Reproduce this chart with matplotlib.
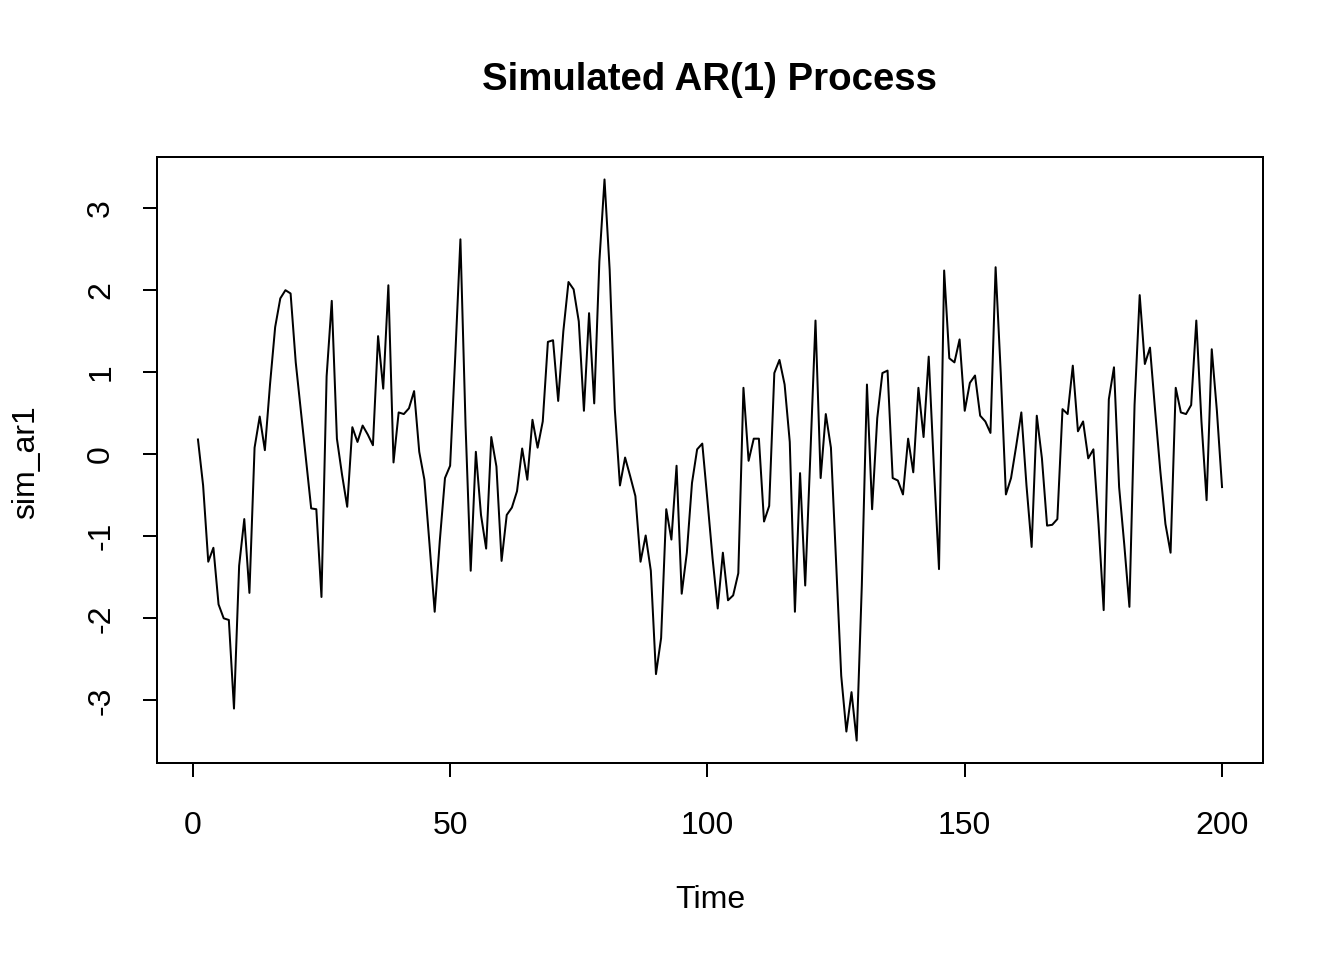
import matplotlib
matplotlib.use("Agg")
import matplotlib.pyplot as plt
import numpy as np

plt.rcParams['font.family'] = ['Liberation Sans', 'DejaVu Sans']

title = "Simulated AR(1) Process"
xlabel = "Time"
ylabel = "sim_ar1"

time = list(range(1, 201))
sim_ar1 = [
    0.18, -0.38, -1.31, -1.14, -1.83, -2.00, -2.02, -3.10, -1.36, -0.79,
    -1.69, 0.08, 0.46, 0.05, 0.85, 1.55, 1.90, 2.00, 1.96, 1.12,
    0.53, -0.06, -0.66, -0.67, -1.74, 0.95, 1.87, 0.19, -0.25, -0.64,
    0.33, 0.15, 0.35, 0.24, 0.11, 1.44, 0.80, 2.06, -0.10, 0.51,
    0.49, 0.56, 0.77, 0.03, -0.31, -1.10, -1.92, -1.05, -0.29, -0.14,
    1.20, 2.62, 0.35, -1.42, 0.03, -0.74, -1.15, 0.21, -0.15, -1.30,
    -0.74, -0.65, -0.45, 0.07, -0.31, 0.42, 0.08, 0.40, 1.37, 1.39,
    0.65, 1.50, 2.10, 2.01, 1.62, 0.53, 1.72, 0.62, 2.35, 3.35,
    2.25, 0.55, -0.38, -0.04, -0.27, -0.51, -1.31, -0.99, -1.42, -2.68,
    -2.24, -0.67, -1.04, -0.14, -1.70, -1.20, -0.35, 0.06, 0.13, -0.56,
    -1.27, -1.88, -1.20, -1.78, -1.72, -1.45, 0.81, -0.08, 0.19, 0.19,
    -0.82, -0.63, 0.99, 1.15, 0.85, 0.15, -1.92, -0.23, -1.60, -0.01,
    1.63, -0.29, 0.49, 0.08, -1.30, -2.70, -3.38, -2.90, -3.49, -1.60,
    0.85, -0.67, 0.44, 0.99, 1.02, -0.29, -0.32, -0.49, 0.19, -0.22,
    0.81, 0.21, 1.19, -0.15, -1.40, 2.24, 1.17, 1.12, 1.40, 0.53,
    0.87, 0.96, 0.47, 0.40, 0.26, 2.28, 0.99, -0.49, -0.29, 0.10,
    0.51, -0.38, -1.13, 0.47, -0.05, -0.87, -0.86, -0.79, 0.55, 0.49,
    1.08, 0.28, 0.40, -0.05, 0.06, -0.85, -1.90, 0.67, 1.06, -0.40,
    -1.10, -1.86, 0.60, 1.94, 1.10, 1.30, 0.53, -0.20, -0.85, -1.20,
    0.81, 0.51, 0.49, 0.60, 1.63, 0.40, -0.56, 1.28, 0.53, -0.40,
]
xticks = [0, 50, 100, 150, 200]
yticks = [-3, -2, -1, 0, 1, 2, 3]

W, H = 1344, 960
fig = plt.figure(figsize=(7, 5), dpi=192)
ax = fig.add_axes([157 / W, 1 - 763 / H, (1263 - 157) / W, (763 - 157) / H])

ax.plot(time, sim_ar1, color='black', linewidth=0.75)

xr = max(time) - min(time)
ax.set_xlim(min(time) - 0.04 * xr, max(time) + 0.04 * xr)
yr = max(sim_ar1) - min(sim_ar1)
ax.set_ylim(min(sim_ar1) - 0.04 * yr, max(sim_ar1) + 0.04 * yr)

ax.set_xticks(xticks)
ax.set_xticklabels([str(v) for v in xticks])
ax.set_yticks(yticks)
ax.set_yticklabels([str(v) for v in yticks], rotation=90, va='center')

ax.tick_params(axis='both', direction='out', length=5.3, width=0.75,
               labelsize=12, colors='black')
ax.tick_params(axis='x', pad=12.8)
ax.tick_params(axis='y', pad=10)
for s in ax.spines.values():
    s.set_linewidth(0.75)
    s.set_color('black')

fig.text(710 / W, 1 - 80 / H, title, ha='center', va='center',
         fontsize=14.4, fontweight='bold')
fig.text(710 / W, 1 - 900 / H, xlabel, ha='center', va='center', fontsize=12)
fig.text(26 / W, 1 - 462 / H, ylabel, ha='center', va='center', fontsize=12,
         rotation=90)

fig.savefig("out.png", dpi=192, facecolor='white')
